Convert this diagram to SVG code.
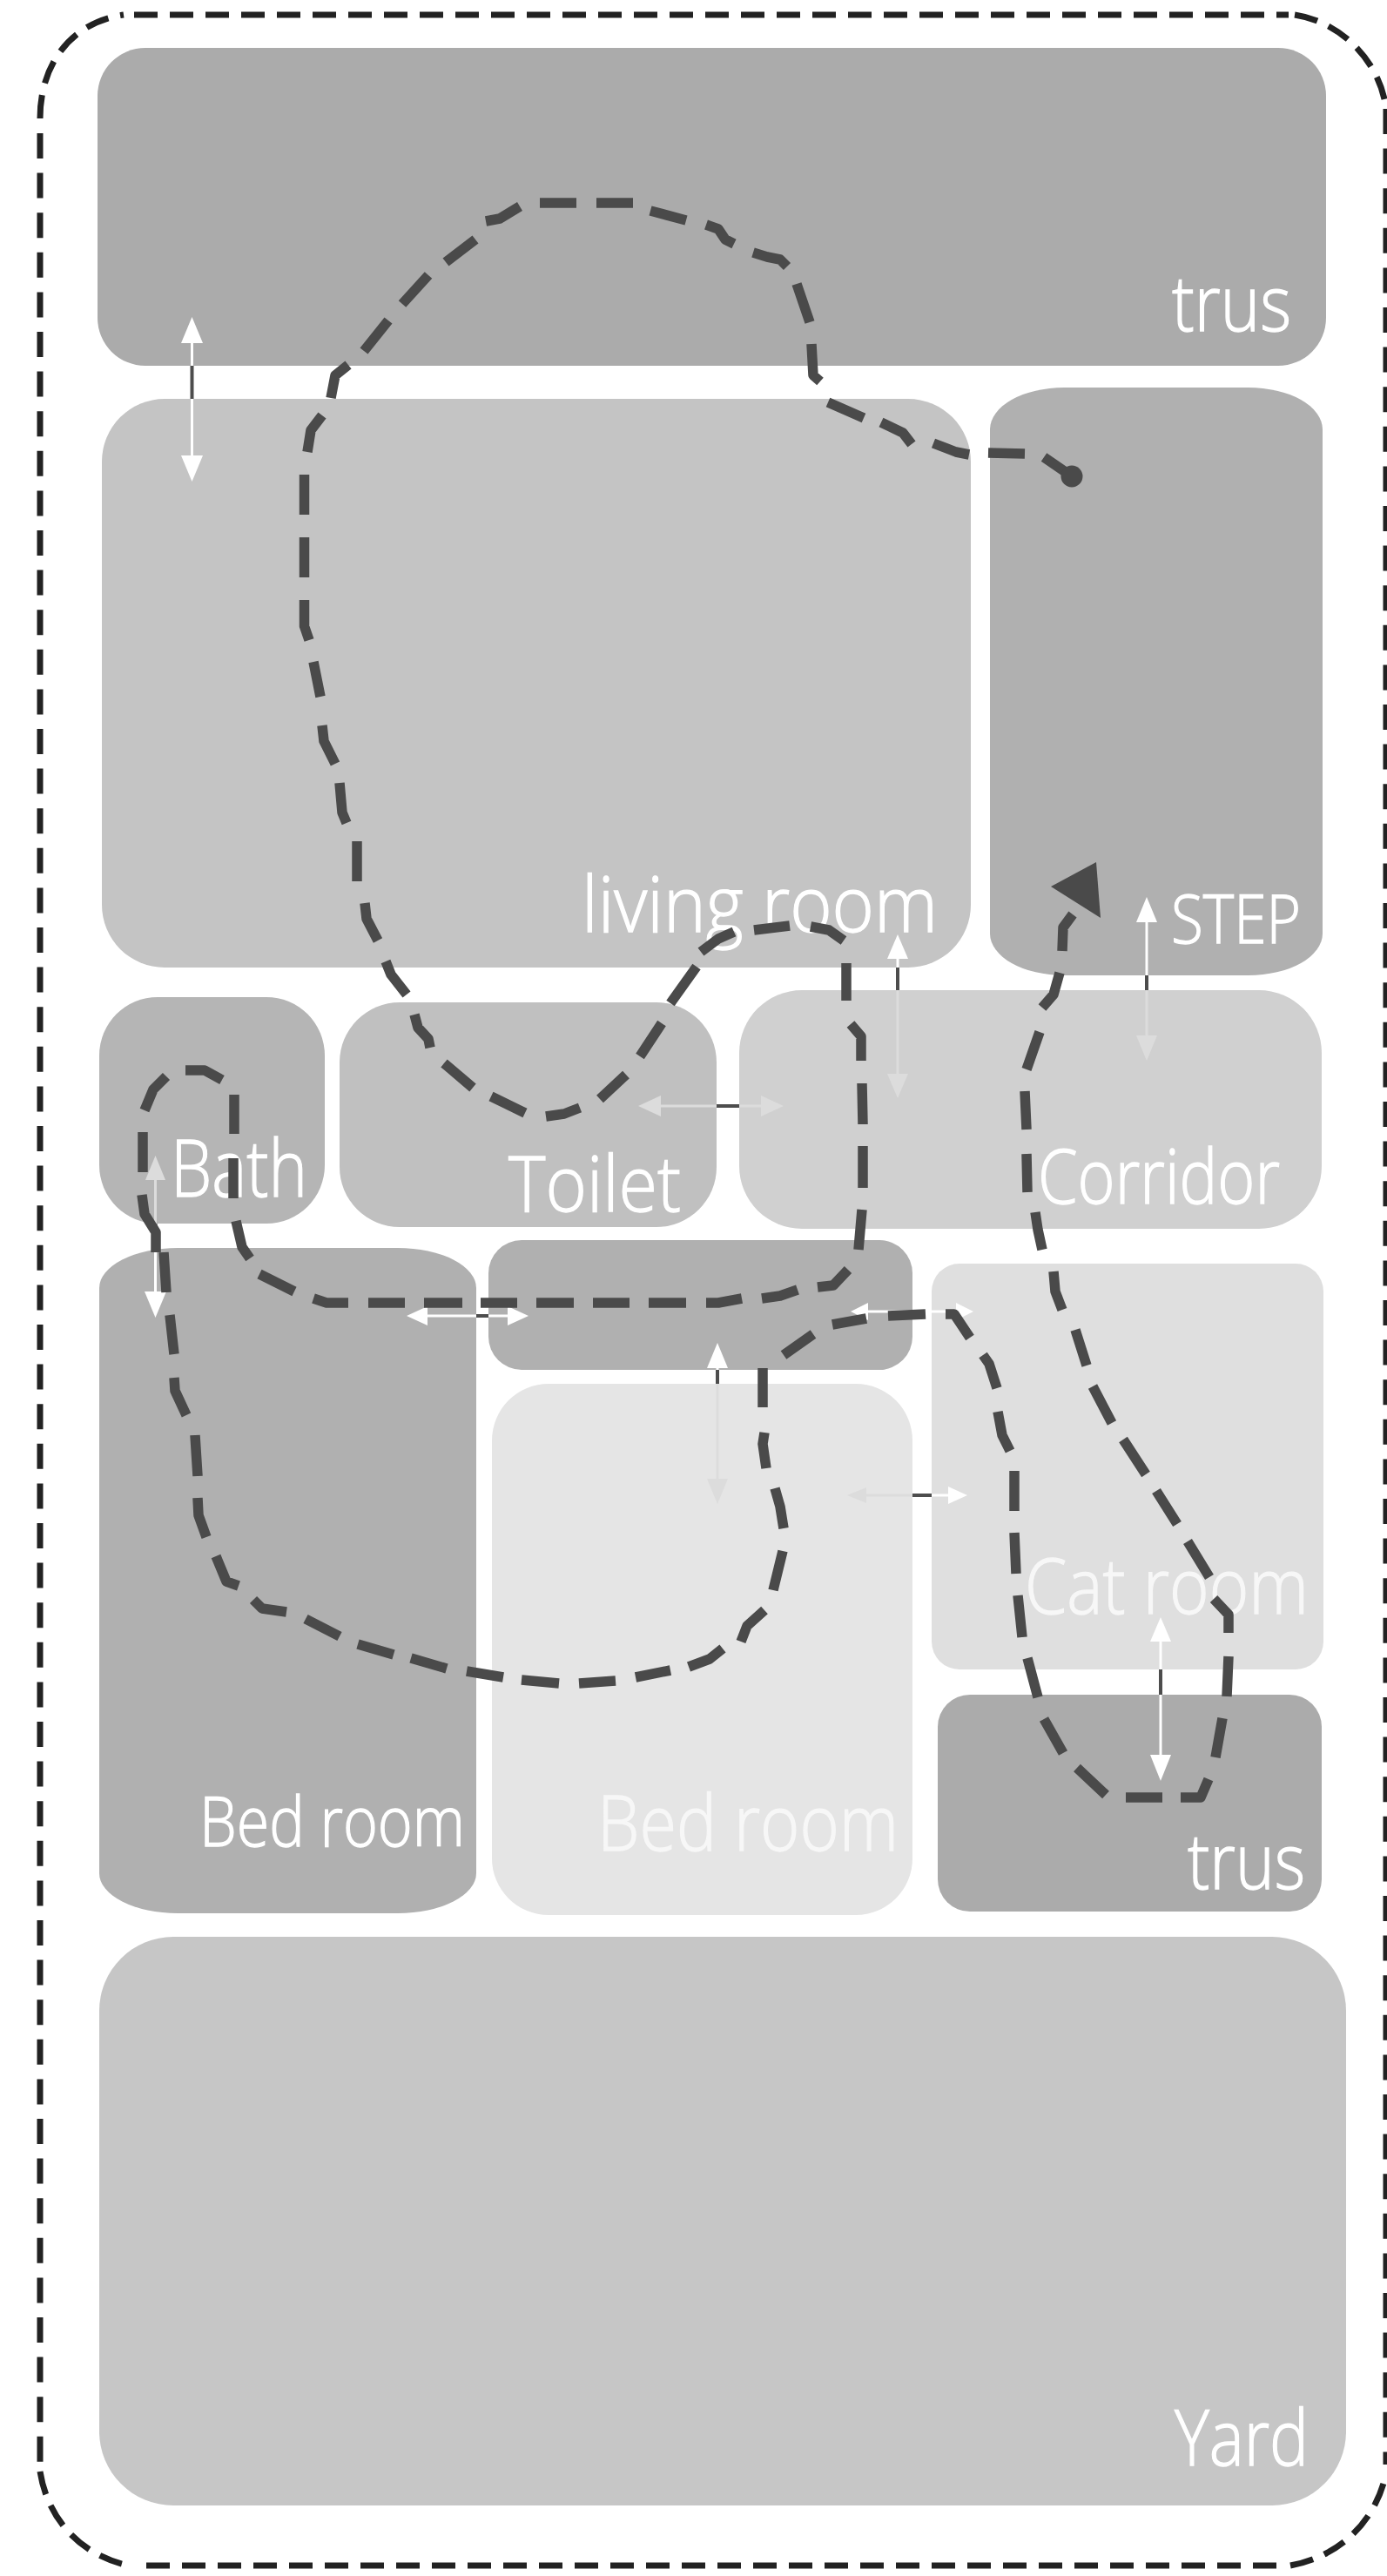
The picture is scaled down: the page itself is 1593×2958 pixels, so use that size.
<svg xmlns="http://www.w3.org/2000/svg" width="1593" height="2958" viewBox="0 0 1593 2958">
<style>
text{font-family:"Open Sans","Noto Sans","Liberation Sans",sans-serif;font-weight:300;fill:#fff;stroke:#fff;stroke-width:1.300px;text-anchor:start}
.pale{fill:#f7f7f7;stroke:#f7f7f7}
.frame{fill:none;stroke:#222;stroke-width:7}
.fh{stroke-dasharray:27 14}
.fv{stroke-dasharray:29 16.600}
.fc{stroke-dasharray:27 14}
.route{fill:none;stroke:#4a4a4a;stroke-width:11.500px;stroke-linejoin:round}
.w{stroke:#fff;stroke-width:3;fill:none}
.l{stroke:#dcdcdc;stroke-width:3;fill:none}
.d{stroke:#4d4d4d;stroke-width:4;fill:none}
.hw{fill:#fff}
.hl{fill:#dcdcdc}
</style>
<rect width="1593" height="2958" fill="#fff"/>
<g id="frame">
<path class="frame fh" d="M154 17H1480M168 2946H1480"/>
<path class="frame fv" d="M46 153V2828M1592 125V2830"/>
<path class="frame fc" d="M46 136C46 70 85 25 142 17M1487 17C1540 25 1585 70 1592 125M46 2838C55 2895 95 2935 148 2946M1482 2946C1540 2935 1580 2895 1592 2840"/>
</g>
<g id="trus-top"><rect x="112" y="55" width="1411" height="365" rx="55" fill="#ababab"/><text x="1346" y="380" font-size="88" textLength="137" lengthAdjust="spacingAndGlyphs">trus</text></g>
<g id="living-room"><rect x="117" y="458" width="998" height="653" rx="72" fill="#c4c4c4"/><text x="668" y="1070" font-size="88" textLength="409" lengthAdjust="spacingAndGlyphs">living room</text></g>
<g id="step"><rect x="1137" y="445" width="382" height="675" rx="85" ry="48" fill="#b0b0b0"/><text x="1345" y="1083" font-size="78" textLength="149" lengthAdjust="spacingAndGlyphs">STEP</text></g>
<g id="bath"><rect x="114" y="1145" width="259" height="260" rx="67" fill="#b5b5b5"/><text x="196" y="1374" font-size="90" textLength="157" lengthAdjust="spacingAndGlyphs">Bath</text></g>
<g id="toilet"><rect x="390" y="1151" width="433" height="258" rx="69" fill="#c0c0c0"/><text x="584" y="1391" font-size="88" textLength="198" lengthAdjust="spacingAndGlyphs">Toilet</text></g>
<g id="corridor"><rect x="849" y="1137" width="669" height="274" rx="72" fill="#d0d0d0"/><text x="1192" y="1382" font-size="86" textLength="278" lengthAdjust="spacingAndGlyphs">Corridor</text></g>
<g id="hall"><rect x="561" y="1424" width="487" height="149" rx="38" fill="#b0b0b0"/></g>
<g id="bed-room-left"><rect x="114" y="1433" width="433" height="764" rx="90" ry="46" fill="#b0b0b0"/><text x="229" y="2120" font-size="80" textLength="305" lengthAdjust="spacingAndGlyphs">Bed room</text></g>
<g id="bed-room-mid"><rect x="565" y="1589" width="483" height="610" rx="65" fill="#e5e5e5"/><text class="pale" x="686" y="2125" font-size="88" textLength="346" lengthAdjust="spacingAndGlyphs">Bed room</text></g>
<g id="cat-room"><rect x="1070" y="1451" width="450" height="466" rx="32" fill="#dfdfdf"/><text class="pale" x="1177" y="1853" font-size="88" textLength="326" lengthAdjust="spacingAndGlyphs">Cat room</text></g>
<g id="trus-lower"><rect x="1077" y="1946" width="441" height="249" rx="37" fill="#ababab"/><text x="1364" y="2169" font-size="88" textLength="135" lengthAdjust="spacingAndGlyphs">trus</text></g>
<g id="yard"><rect x="114" y="2224" width="1432" height="653" rx="85" fill="#c6c6c6"/><text x="1349" y="2831" font-size="88" textLength="154" lengthAdjust="spacingAndGlyphs">Yard</text></g>
<g id="connectors">
<g id="door-arrows">
<path class="w" d="M220.500 380V540"/><path class="d" d="M220.500 420V458"/><path class="hw" d="M220.500 364l-12.500 30h25zM220.500 553l-12.500-30h25z"/>
<path class="l" d="M178.500 1345V1405"/><path class="w" d="M178.500 1433V1495"/><path class="d" d="M178.500 1405V1433"/><path class="hl" d="M178.500 1327l-11.500 28h23z"/><path class="hw" d="M178.500 1513l-12.500-30h25z"/>
<path class="w" d="M485 1511H590"/><path class="d" d="M547 1511H561"/><path class="hw" d="M467 1511l24-11v22zM607 1511l-24-11v22z"/>
<path class="l" d="M750 1270H885"/><path class="d" d="M823 1270H849"/><path class="hl" d="M733 1270l26-12v24zM900 1270l-26-12v24z"/>
<path class="w" d="M1031 1090V1111"/><path class="l" d="M1031 1137V1245"/><path class="d" d="M1031 1111V1137"/><path class="hw" d="M1031 1073l-12 28h24z"/><path class="hl" d="M1031 1261l-12-28h24z"/>
<path class="w" d="M1317 1048V1120"/><path class="l" d="M1317 1137V1200"/><path class="d" d="M1317 1120V1137"/><path class="hw" d="M1317 1030l-12 29h24z"/><path class="hl" d="M1317 1218l-12-29h24z"/>
<path class="w" d="M824 1560V1573"/><path class="l" d="M824 1589V1710"/><path class="d" d="M824 1573V1589"/><path class="hw" d="M824 1542l-12 29h24z"/><path class="hl" d="M824 1727l-12-29h24z"/>
<path class="l" d="M990 1717H1048"/><path class="w" d="M1070 1717H1095"/><path class="d" d="M1048 1717H1070"/><path class="hl" d="M973 1717l22-9v18z"/><path class="hw" d="M1111 1717l-22-10v20z"/>
<path class="w" d="M990 1506H1105"/><path class="hw" d="M977 1506l20-10v20zM1118 1506l-20-10v20z"/>
<path class="w" d="M1333 1875V2030"/><path class="d" d="M1333 1917V1946"/><path class="hw" d="M1333 1857l-12 28h24zM1333 2045l-12-30h24z"/>
</g>
<g id="route">
<path class="route" d="M1231 547L1199 525M1177 521L1135 520M1113 522L1098 519 1072 509M1047 510L1037 497 1012 485M992 480L967 469 951 462M942 438L934 431 932 395M930 370L915 326M904 306L896 298 881 295 865 290M843 280L833 275 825 263 811 258M788 253L747 242M727 233L685 233M662 233L620 233M597 237L574 251 558 254M546 275L512 301M492 316L462 349M446 368L418 403M400 419L385 431 380 457M370 477L357 494 353 519M349.500 545L349.500 591M349.500 617L349.500 663M349.500 689L349.500 719 355 735M360 760L368 800M370 833L372 851 385 877M390 899L393 933 398 945M410 966L410 1012M419 1037L421 1055 434 1080M443 1104L449 1119 467 1142M476 1165L480 1180 492 1193 494 1203M510 1221L543 1249M564 1259L603 1278M627 1282L648 1279 666 1272M689 1262L719 1234M735 1213L760 1175M770 1152L800 1110M805 1093L825 1078 843 1070M866 1068L907 1063M931 1064L952 1068 969 1080M972 1106L972 1149M977 1176L989 1190 989 1218M990 1244L991 1291M991 1316L991 1364M990 1389L986 1435M974 1458L957 1476 939 1478M916 1481L896 1488 875 1491M852 1491L825 1496 811 1496M788 1496L745 1496M723 1496L681 1496M659 1496L616 1496M594 1496L552 1496M531 1496L487 1496M465 1496L423 1496M400 1496L375 1496 360 1491M338 1483L298 1463M287 1445L278 1432 271 1402M268 1376L268 1330M269 1302L269 1257M255 1240L235 1229 213 1229M191 1236L176 1251 166 1275M164 1300L164 1346M163 1372L166 1394 179 1415 179 1438M188 1438L191 1484M195 1510L200 1555M200 1582L201 1597 214 1625M224 1648L227 1695M227 1720L228 1740 237 1765M248 1787L260 1816 274 1821M291 1837L301 1847 329 1851M351 1859L390 1879M411 1888L452 1900M472 1904L513 1916M536 1919L578 1926M599 1929L642 1933M665 1933L707 1930M730 1926L770 1918M791 1914L815 1905 830 1893M851 1885L858 1867 878 1849M888 1826L899 1781M900 1755L896 1730 890 1709M880 1686L876 1658 878 1645M876 1616L876 1571M900 1556L934 1532M956 1521L995 1514M1020 1511L1063 1509M1086 1509L1096 1509 1114 1536M1129 1556L1136 1566 1145 1594M1146 1621L1151 1648 1160 1666M1165 1689L1165 1735M1165 1760L1167 1807M1169 1832L1174 1880M1180 1904L1192 1949M1199 1974L1221 2013M1237 2030L1270 2061M1293 2064L1335 2064M1356 2064L1379 2064 1388 2043M1396 2018L1404 1973M1409 1948L1411 1902M1411 1875L1411 1854 1394 1836M1389 1811L1364 1770M1352 1750L1328 1712M1316 1693L1290 1653M1277 1634L1255 1592M1248 1568L1235 1527M1220 1504L1212 1483 1210 1460M1197 1435L1192 1412 1189 1392M1180 1369L1179 1325M1179 1297L1177 1253M1179 1228L1194 1185M1197 1157L1210 1142 1217 1117M1220 1092L1221 1065 1232 1050"/>
<circle cx="1231" cy="547" r="12.500" fill="#4a4a4a"/>
<path d="M1207 1018L1259 990 1264 1054Z" fill="#4a4a4a"/>
</g>
</g>
</svg>
